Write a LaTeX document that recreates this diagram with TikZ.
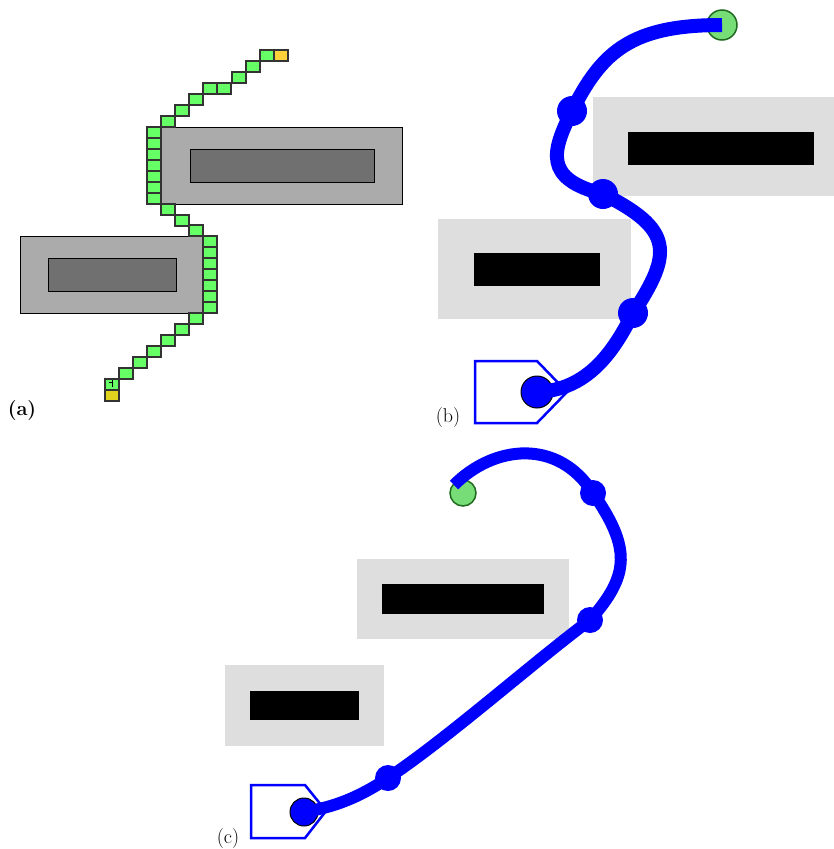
\documentclass[tikz,border=0pt]{standalone}
\usetikzlibrary{positioning}
\definecolor{cellgreen}{HTML}{66FF66}
\definecolor{goalgreen}{HTML}{77DD77}
\definecolor{goaldark}{HTML}{1F6A1F}
\definecolor{topyellow}{HTML}{FFD23C}
\definecolor{endyellow}{HTML}{E0D41E}

\begin{document}
\begin{tikzpicture}[x=1pt,y=-1pt,
gridcell/.style={draw=black!80,line width=1.3pt,fill=cellgreen},
block/.style={draw=black,line width=1pt,fill=black!33},
core/.style={draw=black,line width=1pt,fill=black!56},
zone/.style={fill=black!13},
wall/.style={fill=black},
robotshape/.style={draw=blue,line width=2.5pt,line join=miter},
routeline/.style={draw=blue,line width=14pt},
waydot/.style={circle,fill=blue,inner sep=0pt,minimum size=30pt},
startdot/.style={circle,fill=blue,draw=black,line width=1pt,inner sep=0pt,minimum size=32pt},
goaldot/.style={circle,fill=goalgreen,draw=goaldark,line width=1.5pt,inner sep=0pt,minimum size=30pt},
panellabel/.style={inner sep=0pt,font=\fontsize{20}{24}\selectfont}]
\useasboundingbox (0,0) rectangle (834,849);
% (a) grid search
\draw[block] (161,127) rectangle (402,204);
\draw[core] (190,149) rectangle (374,182);
\draw[block] (20,236) rectangle (204,313);
\draw[core] (48,258) rectangle (176,291);
\foreach \x/\y in {260/50,246/61,232/72,217/83,203/83,189/94,175/105,161/116,161/204,175/215,189/225,189/313,175/324,161/335,147/346,133/357,119/368,105/379}
  \draw[gridcell] (\x,\y) rectangle ++(14,11);
\foreach \y in {127,138,...,193} \draw[gridcell] (147,\y) rectangle ++(14,11);
\foreach \y in {236,247,...,302} \draw[gridcell] (203,\y) rectangle ++(14,11);
\draw[gridcell,fill=topyellow] (274,50) rectangle ++(14,11);
\draw[gridcell,fill=endyellow] (105,390) rectangle ++(14,11);
\draw[line width=1pt] (112,380) -- (112,387); \draw[line width=1pt] (109,382) -- (112,382);
\node[panellabel,font=\fontsize{20}{24}\selectfont\bfseries] (la) at (22,411) {(a)};
% (b) smoothed path
\fill[zone] (593,97) rectangle (834,196);
\fill[wall] (628,132) rectangle (814,165);
\fill[zone] (438,219) rectangle (631,319);
\fill[wall] (474,253) rectangle (600,286);
\draw[robotshape] (475,361) -- (537,361) -- (567,392) -- (537,423) -- (475,423) -- cycle;
\node[startdot] (bs) at (537,392) {};
\node[goaldot] (bg) at (722,25) {};
\coordinate (b1) at (572,111); \coordinate (b2) at (603,194); \coordinate (b3) at (633,313);
\draw[routeline] (bs.center) .. controls +(50,-2) and +(-20,40) .. (b3) .. controls +(40,-60) and +(70,35) .. (b2) .. controls +(-60,-15) and +(-20,40) .. (b1) .. controls +(30,-60) and +(-90,0) .. (bg.center);
\foreach \p in {b1,b2,b3} \node[waydot] (w\p) at (\p) {};
\node[panellabel] (lb) at (448,418) {(b)};
% (c) smoothed path
\fill[zone] (357,559) rectangle (569,639);
\fill[wall] (382,584) rectangle (544,614);
\fill[zone] (225,665) rectangle (384,746);
\fill[wall] (250,691) rectangle (359,720);
\draw[robotshape] (251,785) -- (305,785) -- (326,811) -- (305,838) -- (251,838) -- cycle;
\node[startdot,minimum size=28pt] (cs) at (304,812) {};
\node[goaldot,minimum size=26pt] (cg) at (463,493) {};
\coordinate (c1) at (388,778); \coordinate (c2) at (590,620); \coordinate (c3) at (593,493); \coordinate (cend) at (454,485);
\draw[routeline,line width=12pt] (cs.center) .. controls +(30,-5) and +(-30,20) .. (c1) .. controls +(60,-40) and +(-60,45) .. (c2) .. controls +(40,-45) and +(38,55) .. (c3) .. controls +(-35,-55) and +(40,-40) .. (cend);
\foreach \p in {c1,c2,c3} \node[waydot,minimum size=26pt] (w\p) at (\p) {};
\node[panellabel] (lc) at (228,838) {(c)};
\end{tikzpicture}
\end{document}
